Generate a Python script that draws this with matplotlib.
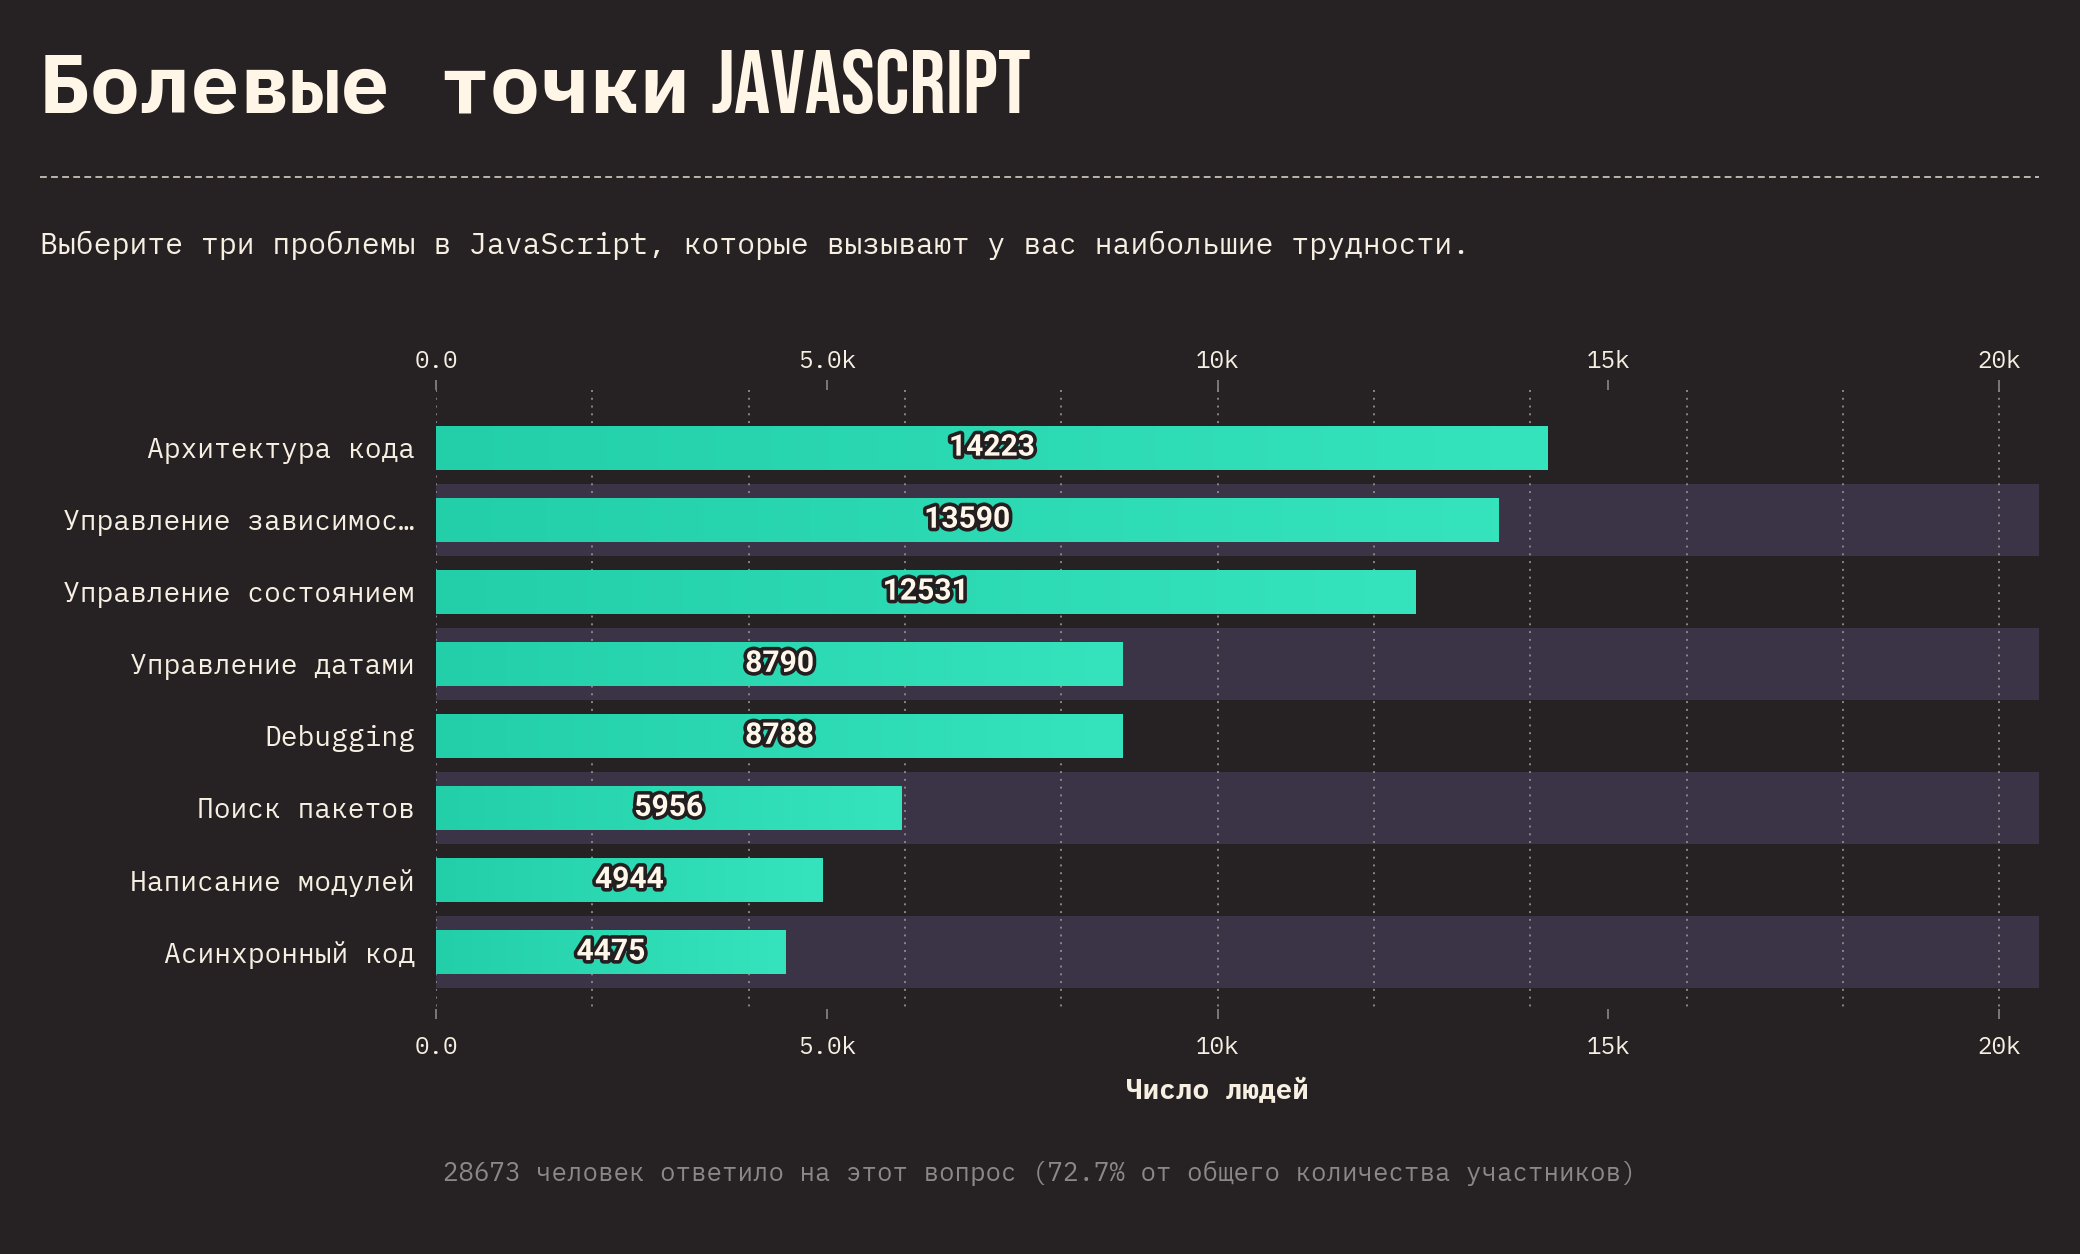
import matplotlib
matplotlib.use("Agg")
import matplotlib.pyplot as plt
import numpy as np
from matplotlib import font_manager as fm
from matplotlib.colors import LinearSegmentedColormap
from matplotlib.lines import Line2D
from matplotlib.transforms import blended_transform_factory
import matplotlib.patheffects as pe
import logging

logging.getLogger("matplotlib.font_manager").setLevel(logging.ERROR)

# data
categories = ["Архитектура кода", "Управление зависимос…", "Управление состоянием",
              "Управление датами", "Debugging", "Поиск пакетов",
              "Написание модулей", "Асинхронный код"]
values = [14223, 13590, 12531, 8790, 8788, 5956, 4944, 4475]
tick_vals = [0, 5000, 10000, 15000, 20000]
tick_labels = ["0.0", "5.0k", "10k", "15k", "20k"]
grid_vals = [0, 2000, 4000, 6000, 8000, 10000, 12000, 14000, 16000, 18000, 20000]

title_ru = "Болевые точки"
title_js = "JAVASCRIPT"
subtitle = "Выберите три проблемы в JavaScript, которые вызывают у вас наибольшие трудности."
xlabel = "Число людей"
footnote = "28673 человек ответило на этот вопрос (72.7% от общего количества участников)"

BG = "#262224"
STRIPE = "#3a3446"
CREAM = "#f6efe2"


def has_font(name):
    try:
        fm.findfont(fm.FontProperties(family=name), fallback_to_default=False)
        return True
    except Exception:
        return False


MONO = ["IBM Plex Mono", "DejaVu Sans Mono"] if has_font("IBM Plex Mono") else ["DejaVu Sans Mono"]
if has_font("Bebas Neue"):
    JS_FONT, JS_SIZE = ["Bebas Neue"], 32.5
else:
    JS_FONT, JS_SIZE = ["Roboto"], 27

W, H = 2080, 1254
fig = plt.figure(figsize=(W / 200, H / 200), dpi=200, facecolor=BG)

ax = fig.add_axes([436 / W, 1 - 1009 / H, (2039 - 436) / W, (1009 - 390) / H])
ax.set_facecolor(BG)
for s in ax.spines.values():
    s.set_visible(False)

y = np.arange(len(categories))
ymin, ymax = -0.8, 7.79

# alternating stripes
for i in y:
    if i % 2 == 1:
        ax.axhspan(i - 0.5, i + 0.5, color=STRIPE, zorder=0, lw=0)

ax.vlines(grid_vals, ymin, ymax, colors="#8a8587", linestyles=(0, (1, 3)), lw=0.7, zorder=1)

bars = ax.barh(y, values, height=0.61, color="#2bd9b2", zorder=2)
cmap = LinearSegmentedColormap.from_list("g", ["#22cfa8", "#35e3bd"])
grad = np.linspace(0, 1, 256).reshape(1, -1)
for b, v, yi in zip(bars, values, y):
    im = ax.imshow(grad, cmap=cmap, extent=[0, v, yi + 0.305, yi - 0.305],
                   aspect="auto", zorder=2.5, interpolation="bicubic")
    im.set_clip_path(b)
    ax.text(v / 2, yi, str(v), ha="center", va="center", fontsize=10.8,
            family="Roboto", weight="bold", color="#fff8ea", zorder=4,
            path_effects=[pe.withStroke(linewidth=2.6, foreground="#231e20")])

ax.set_xlim(0, 20510)
ax.set_ylim(ymax, ymin)
ax.set_aspect("auto")

# top axis: ticks + labels, bottom axis: ticks, labels placed below
ax.set_xticks(tick_vals, tick_labels)
ax.set_yticks(y, categories)
ax.tick_params(axis="x", top=True, labeltop=True, bottom=True, labelbottom=False,
               length=3.6, width=0.6, color="#8a8587", pad=2.6,
               labelsize=8.75, labelcolor=CREAM)
for lb in ax.get_xticklabels():
    lb.set_family(MONO)
ax.tick_params(axis="y", length=0, pad=7.5, labelsize=10.1, labelcolor=CREAM)
for lb in ax.get_yticklabels():
    lb.set_family(MONO)

tr = blended_transform_factory(ax.transData, fig.transFigure)
for tv, tl in zip(tick_vals, tick_labels):
    ax.text(tv, 1 - 1047 / H, tl, transform=tr, ha="center", va="center",
            family=MONO, fontsize=8.75, color=CREAM)

ax.text(10000, 1 - 1092 / H, xlabel, transform=tr, ha="center", va="center",
        family=MONO, weight="bold", fontsize=10, color=CREAM)

fig.text(0.5, 1 - 1173 / H, footnote, ha="center", va="center",
         family=MONO, fontsize=9.25, color="#8c8889")

fig.text(40 / W, 1 - 245 / H, subtitle, ha="left", va="center",
         family=MONO, fontsize=10.75, color=CREAM)

fig.add_artist(Line2D([40 / W, 2039 / W], [1 - 177 / H] * 2, transform=fig.transFigure,
                      color="#bdb6ad", lw=0.7, linestyle=(0, (3.5, 2.2))))

t1 = fig.text(40 / W, 1 - 113 / H, title_ru, ha="left", va="baseline",
              family=MONO, weight="bold", fontsize=30, color="#fff6e8")
fig.canvas.draw()
bb = t1.get_window_extent()
t2 = fig.text((bb.x1 + 20) / W, 1 - 113 / H, title_js, ha="left", va="baseline",
              family=JS_FONT, weight="bold", fontsize=JS_SIZE, color="#fff6e8")

fig.savefig("out.png", dpi=200, facecolor=BG)
